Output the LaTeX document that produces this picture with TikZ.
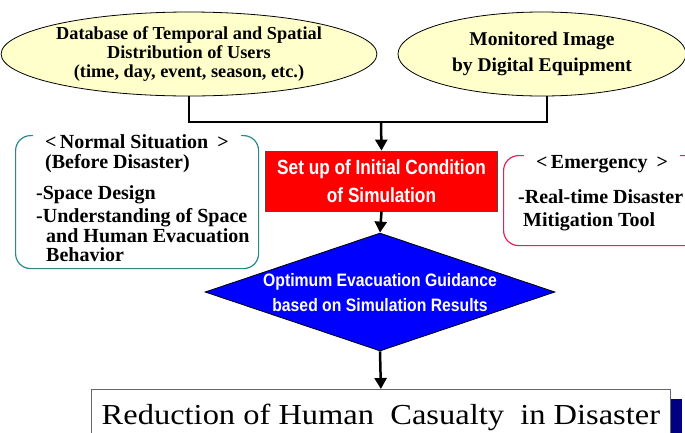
\documentclass[tikz,border=0pt]{standalone}
\usepackage{fontspec}
\setmainfont{Liberation Serif}
\newfontfamily\narrowsans[FakeStretch=0.84]{Liberation Sans}
\newfontfamily\guidesans[FakeStretch=0.875]{Liberation Sans}
\newfontfamily\wideserif[FakeStretch=1.12]{Liberation Serif}
\usetikzlibrary{arrows.meta,shapes.geometric,shadows}
\definecolor{paleyellow}{HTML}{FFFFCC}
\definecolor{tealedge}{HTML}{2A8A8A}
\definecolor{crimsonedge}{HTML}{E0245A}
\definecolor{navyshadow}{HTML}{000080}
\begin{document}
\begin{tikzpicture}[x=1pt,y=-1pt,
  source/.style={ellipse,draw=black,line width=0.8pt,fill=paleyellow,
    inner sep=0pt,align=center},
  link/.style={line width=2.5pt},
  flow/.style={line width=2.5pt,-{Triangle[width=12pt,length=11pt]}},
  panel/.style={rounded corners=15pt,line width=1.2pt,anchor=north west,inner sep=0pt},
  paneltitle/.style={anchor=base west,fill=white,inner ysep=3pt,
    font=\bfseries\fontsize{20}{22}\selectfont},
  panelline/.style={anchor=base west,inner sep=0pt,
    font=\bfseries\fontsize{20}{22}\selectfont},
  whitetext/.style={text=white,align=center,inner sep=0pt}
]
\useasboundingbox (0,0) rectangle (685,432);
\clip (0,0) rectangle (685,432);

% data sources
\node[source,minimum width=336pt,minimum height=84pt,
  font=\bfseries\fontsize{18.3}{19}\selectfont] (db) at (189,54)
  {Database of Temporal and Spatial\\Distribution of Users\\(time, day, event, season, etc.)};
\node[source,minimum width=288pt,minimum height=84pt,
  font=\bfseries\fontsize{19.5}{26}\selectfont] (img) at (542,54)
  {Monitored Image\\by Digital Equipment};

% simulation set-up
\node[draw=black!70,line width=0.8pt,fill=red,minimum width=232pt,minimum height=60pt,
  whitetext,font=\narrowsans\bfseries\fontsize{20.5}{28}\selectfont] (setup) at (381.5,181)
  {Set up of Initial Condition\\of Simulation};

% guidance decision
\node[diamond,draw=black,line width=0.8pt,fill=blue,minimum width=350pt,
  minimum height=118pt,inner sep=0pt] (guide) at (380,292) {};
\node[whitetext,font=\guidesans\bfseries\fontsize{18}{25}\selectfont] (guidetext)
  at (380,293) {Optimum Evacuation Guidance\\based on Simulation Results};

% outcome
\node[draw=black!60,line width=0.8pt,fill=white,minimum width=579pt,minimum height=57pt,
  anchor=north west,inner sep=0pt,
  drop shadow={shadow xshift=12pt,shadow yshift=-10pt,fill=navyshadow,opacity=1},
  font=\wideserif\fontsize{29}{32}\selectfont] (result) at (91,389)
  {Reduction of Human\ \ Casualty\ \ in Disaster};

% connectors
\coordinate (join) at (381,122);
\draw[link] (db.south) |- (join);
\draw[link] ([xshift=5pt]img.south) |- (join);
\draw[flow] (join) -- (setup.north);
\draw[flow] (setup.south) -- (guide.north);
\draw[flow] (guide.south) -- (result.north);

% normal situation panel
\node[panel,draw=tealedge,minimum width=243pt,minimum height=133pt] (normal) at (15,135) {};
\node[paneltitle,inner xsep=12pt] (normaltitle) at (33,148)
  {<\,Normal Situation\hspace{9pt}>};
\node[panelline] (normal1) at (45,168) {(Before Disaster)};
\node[panelline] (normal2) at (36,199) {-Space Design};
\node[panelline] (normal3) at (36,222) {-Understanding of Space};
\node[panelline] (normal4) at (46,242) {and Human Evacuation};
\node[panelline] (normal5) at (46,261) {Behavior};

% emergency panel
\node[panel,draw=crimsonedge,minimum width=230pt,minimum height=90pt] (emerg) at (503,155) {};
\node[paneltitle,inner xsep=12pt] (emergtitle) at (524,168)
  {<\,Emergency\hspace{9pt}>};
\node[panelline] (emerg1) at (518,203) {-Real-time Disaster};
\node[panelline] (emerg2) at (523,226) {Mitigation Tool};
\end{tikzpicture}
\end{document}
